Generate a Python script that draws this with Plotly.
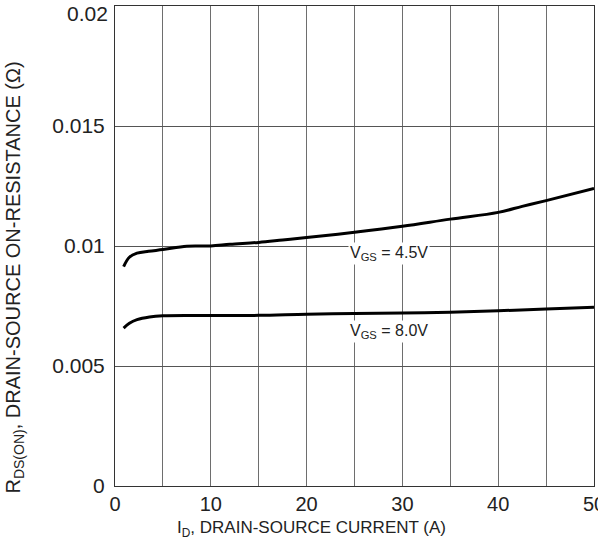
import plotly.graph_objects as go

# Data
id_45 = [0.9, 1.5, 2.3, 3.5, 5, 7.5, 10, 12, 15, 17.5, 20, 25, 30, 35, 40, 42.5, 45, 50]
rds_45 = [0.00914, 0.00953, 0.00970, 0.00978, 0.00985, 0.00999, 0.01000, 0.01007, 0.01015,
          0.01025, 0.01035, 0.01057, 0.01082, 0.01112, 0.01140, 0.01165, 0.01189, 0.01240]
id_80 = [0.9, 1.5, 2.3, 3.6, 5, 10, 15, 20, 25, 30, 35, 40, 45, 50]
rds_80 = [0.00658, 0.00678, 0.00693, 0.00704, 0.00709, 0.00710, 0.00711, 0.00716, 0.00719,
          0.00721, 0.00724, 0.00730, 0.00738, 0.00745]

x_ticks = [0, 10, 20, 30, 40, 50]
y_ticks = [0, 0.005, 0.01, 0.015, 0.02]
y_tick_text = ["0", "0.005", "0.01", "0.015", "0.02"]

FONT = "Liberation Sans, Arial, sans-serif"
TXT = "#222222"

fig = go.Figure()
fig.add_trace(go.Scatter(x=id_45, y=rds_45, mode="lines", line=dict(color="black", width=3, shape="spline"),
                         showlegend=False, hoverinfo="skip"))
fig.add_trace(go.Scatter(x=id_80, y=rds_80, mode="lines", line=dict(color="black", width=3, shape="spline"),
                         showlegend=False, hoverinfo="skip"))

fig.update_layout(
    width=598, height=541,
    margin=dict(l=115, r=4, t=6, b=55),
    paper_bgcolor="white", plot_bgcolor="white",
    font=dict(family=FONT, color=TXT, size=18),
)
fig.update_xaxes(range=[0, 50], tickvals=list(range(0, 51, 5)),
                 ticktext=[str(v) if v in x_ticks else "" for v in range(0, 51, 5)],
                 showgrid=True, gridcolor="#6e6e6e", gridwidth=1,
                 showline=True, linecolor="#333333", linewidth=1, mirror=True,
                 ticks="", zeroline=False, automargin=False, ticklabeloverflow="allow",
                 ticklabelstandoff=0, tickfont=dict(size=20, color=TXT))
# top tick label (0.02) is drawn as an annotation so it sits fully inside the page
fig.update_yaxes(range=[0, 0.02], tickvals=y_ticks, ticktext=y_tick_text[:-1] + [""],
                 showgrid=True, gridcolor="#555555", gridwidth=1,
                 showline=True, linecolor="#333333", linewidth=1, mirror=True,
                 ticks="", zeroline=False, automargin=False, ticklabeloverflow="allow",
                 ticklabelstandoff=5, tickfont=dict(size=21, color=TXT))
fig.add_annotation(x=0, y=y_ticks[-1], xref="paper", yref="y", xanchor="right", yanchor="middle",
                   xshift=-5, yshift=-7, text=y_tick_text[-1], showarrow=False,
                   font=dict(size=21, color=TXT))

fig.add_annotation(x=28.6, y=0.00967, xref="x", yref="y", text="V<sub>GS</sub> = 4.5V",
                   showarrow=False, bgcolor="white", font=dict(size=16, color=TXT), borderpad=1)
fig.add_annotation(x=28.6, y=0.00645, xref="x", yref="y", text="V<sub>GS</sub> = 8.0V",
                   showarrow=False, bgcolor="white", font=dict(size=16, color=TXT), borderpad=1)

fig.add_annotation(x=0.411, y=-0.089, xref="paper", yref="paper", xanchor="center", yanchor="middle",
                   text="I<sub>D</sub>, DRAIN-SOURCE CURRENT (A)", showarrow=False,
                   font=dict(size=17, color=TXT))
fig.add_annotation(x=-0.209, y=0.434, xref="paper", yref="paper", xanchor="center", yanchor="middle",
                   text="R<sub>DS(ON)</sub>, DRAIN-SOURCE ON-RESISTANCE (Ω)", showarrow=False, textangle=-90,
                   font=dict(size=20, color=TXT))

fig.write_html("out.html", config={"displayModeBar": False},
               post_script="document.body.style.margin='0';")
